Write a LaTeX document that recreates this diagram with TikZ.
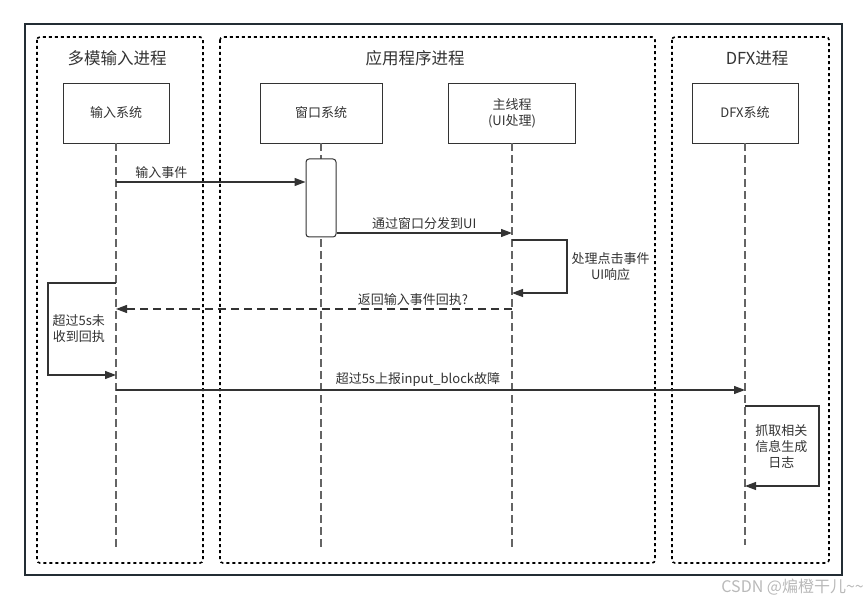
\documentclass[tikz,border=0pt]{standalone}
\usepackage{fontspec}
\setmainfont{Noto Sans CJK SC}
\usetikzlibrary{arrows.meta,positioning,calc}
\definecolor{ink}{RGB}{51,51,51}
\definecolor{lifegray}{RGB}{100,100,100}
\definecolor{framec}{RGB}{35,45,52}
\definecolor{wmark}{RGB}{185,185,185}
\tikzset{
  proc/.style={draw=ink,fill=white,minimum width=106pt,minimum height=60pt,
    font=\fontsize{13}{16}\selectfont,text=ink,align=center,inner sep=0pt},
  lane/.style={draw=black,line width=1.6pt,dash pattern=on 3pt off 3pt,rounded corners=3pt},
  lifeln/.style={draw=lifegray,line width=1.2pt,dash pattern=on 8pt off 4pt},
  msg/.style={-{Triangle[length=11pt,width=8pt]},draw=ink,line width=1.2pt},
  ret/.style={msg,dash pattern=on 8pt off 5pt},
  lbl/.style={font=\fontsize{13}{16}\selectfont,text=ink,align=center,inner sep=1pt},
  ttl/.style={font=\fontsize{16.5}{19}\selectfont,text=ink},
  actbox/.style={draw=ink,fill=white,rounded corners=3pt,line width=1pt,inner sep=0pt},
}

\begin{document}
\begin{tikzpicture}[x=1pt,y=-1pt]
  \useasboundingbox (0,0) rectangle (867,601);
  % frame and process lanes
  \draw[framec,line width=2pt] (25,24) rectangle (842,575);
  \draw[lane] (37,37) rectangle (203,563);
  \draw[lane] (220,37) rectangle (655,563);
  \draw[lane] (672,37) rectangle (829,563);
  \node[ttl] (tin) at (117,58) {多模输入进程};
  \node[ttl] (tapp) at (415,58) {应用程序进程};
  \node[ttl] (tdfx) at (757,58) {DFX进程};

  % participants
  \node[proc] (inp) at (116,113) {输入系统};
  \node[proc,minimum width=122pt] (win) at (321,113) {窗口系统};
  \node[proc,minimum width=127pt] (ui) at (512,113) {主线程\\(UI处理)};
  \node[proc] (dfx) at (745,113) {DFX系统};

  % lifelines
  \coordinate (inpend) at (inp |- 0,547);
  \coordinate (winend) at (win |- 0,547);
  \coordinate (uiend) at (ui |- 0,547);
  \coordinate (dfxend) at (dfx |- 0,545);
  \draw[lifeln] (inp.south) -- (inpend);
  \draw[lifeln] (win.south) -- (winend);
  \draw[lifeln] (ui.south) -- (uiend);
  \draw[lifeln] (dfx.south) -- (dfxend);
  \node[actbox,minimum width=30pt,minimum height=78pt] (act) at (321,198) {};

  % messages
  \draw[msg] (inp |- 0,182) -- node[lbl,above=2pt,pos=0.24]{输入事件} (act.west |- 0,182);
  \draw[msg] (act.east |- 0,233) -- node[lbl,above=2pt]{通过窗口分发到UI} (ui |- 0,233);
  \draw[msg] (ui |- 0,240) -- ++(55,0) |- node[lbl,right=3pt,pos=0.25]{处理点击事件\\UI响应} (ui |- 0,293);
  \draw[ret] (ui |- 0,309) -- node[lbl,above=2pt,pos=0.25]{返回输入事件回执?} (inp |- 0,309);
  \draw[msg] (inp |- 0,283) -- ++(-68,0) |- node[lbl,right=3pt,pos=0.25]{超过5s未\\收到回执} (inp |- 0,375);
  \draw[msg] (inp |- 0,390) -- node[lbl,above=2pt,pos=0.48]{超过5s上报input\_block故障} (dfx |- 0,390);
  \draw[msg] (dfx |- 0,406) -- ++(74,0) |- node[lbl,left=10pt,pos=0.25]{抓取相关\\信息生成\\日志} (dfx |- 0,486);

  \node[anchor=east,text=wmark,font=\fontsize{16}{18}\selectfont,inner sep=0pt] (wm) at (864,587)
    {CSDN @煸橙干儿\textasciitilde\textasciitilde};
\end{tikzpicture}
\end{document}
